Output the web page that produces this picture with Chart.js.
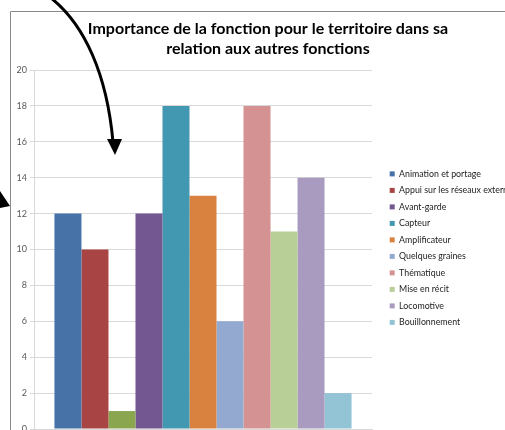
<!DOCTYPE html>
<html>
<head>
<meta charset="utf-8">
<script src="https://cdn.jsdelivr.net/npm/chart.js@4.4.1/dist/chart.umd.min.js"></script>
<style>
  html, body { margin: 0; padding: 0; background: #fff; }
  #wrap { width: 505px; height: 430px; position: relative; }
</style>
</head>
<body>
<div id="wrap"><canvas id="myBarChart" width="505" height="430"></canvas></div>
<script>
// one category, eleven series (the 3rd one has no legend entry in the original)
const seriesNames = ["Animation et portage", "Appui sur les réseaux externes", "", "Avant-garde", "Capteur",
  "Amplificateur", "Quelques graines", "Thématique", "Mise en récit", "Locomotive", "Bouillonnement"];
const seriesValues = [12, 10, 1, 12, 18, 13, 6, 18, 11, 14, 2];
const seriesColors = ["#4672A8", "#A84444", "#8AA64E", "#725790", "#4298B0", "#D9813F",
  "#94A9D0", "#D49292", "#B8CF98", "#A99AC0", "#93C4D5"];
const titleLines = ["Importance de la fonction pour le territoire dans sa", "relation aux autres fonctions"];

const FONT = "Lato, 'Liberation Sans', sans-serif";

// frame + hand-drawn arrows that sit on top of the screenshot
const decor = {
  id: "decor",
  beforeDraw(chart) {
    const ctx = chart.ctx;
    ctx.save();
    ctx.fillStyle = "#fff";
    ctx.fillRect(0, 0, chart.width, chart.height);
    ctx.strokeStyle = "#8a8a8a";
    ctx.lineWidth = 1;
    ctx.beginPath();
    ctx.moveTo(10.5, 440);
    ctx.lineTo(10.5, 11.5);
    ctx.lineTo(510, 11.5);
    ctx.stroke();
    ctx.restore();
  },
  afterDraw(chart) {
    const ctx = chart.ctx;
    ctx.save();
    ctx.strokeStyle = "#000";
    ctx.fillStyle = "#000";
    ctx.lineWidth = 3;
    ctx.beginPath();
    ctx.moveTo(51, -2);
    ctx.bezierCurveTo(85, 25, 107, 75, 113, 142);
    ctx.stroke();
    ctx.beginPath();
    ctx.moveTo(107, 139);
    ctx.lineTo(122, 139);
    ctx.lineTo(115, 155);
    ctx.closePath();
    ctx.fill();
    ctx.beginPath();
    ctx.moveTo(0, 191);
    ctx.lineTo(10, 206);
    ctx.lineTo(0, 208);
    ctx.closePath();
    ctx.fill();
    ctx.restore();
  }
};

const datasets = seriesValues.map((v, i) => ({
  label: seriesNames[i],
  data: [v],
  backgroundColor: seriesColors[i],
  borderWidth: 0,
  categoryPercentage: 0.879,
  barPercentage: 1
}));

new Chart(document.getElementById("myBarChart"), {
  type: "bar",
  data: { labels: [""], datasets: datasets },
  options: {
    responsive: false,
    animation: false,
    // negative right padding so the centred title sits where Excel put it
    layout: { padding: { left: 0, right: -31, top: 0, bottom: 1 } },
    plugins: {
      tooltip: { enabled: false },
      title: {
        display: true,
        text: titleLines,
        color: "#000",
        font: { family: FONT, size: 16, weight: "bold", lineHeight: 1.25 },
        padding: { top: 19, bottom: 11 }
      },
      legend: {
        position: "right",
        align: "start",
        maxWidth: 154,
        title: { display: true, text: " ", font: { size: 9, lineHeight: 1.2 }, padding: { top: 151, bottom: 0 } },
        labels: {
          // trailing spaces only widen the legend box so it starts where Excel's does
          generateLabels: (chart) => Chart.defaults.plugins.legend.labels.generateLabels(chart)
            .map(l => ({ ...l, text: l.text ? l.text + "\u00a0\u00a0\u00a0\u00a0\u00a0" : "" })),
          filter: (item) => item.text !== "",
          boxWidth: 5,
          boxHeight: 5,
          padding: 7.7,
          color: "#222",
          font: { family: FONT, size: 8.8 }
        }
      }
    },
    scales: {
      x: {
        afterFit: (s) => { s.height = 0; },
        ticks: { display: false },
        grid: { display: false, drawTicks: false },
        border: { display: true, color: "#d9d9d9" }
      },
      y: {
        min: 0,
        max: 20,
        afterFit: (s) => { s.width = 34; s.paddingBottom = 0; s.paddingTop = 0; },
        ticks: { stepSize: 2, color: "#595959", font: { family: FONT, size: 9 }, padding: 3 },
        grid: { color: "#d9d9d9", tickLength: 4 },
        border: { color: "#d9d9d9" }
      },
      y2: {
        position: "right",
        display: true,
        afterFit: (s) => { s.width = 10; s.paddingBottom = 0; s.paddingTop = 0; },
        ticks: { display: false },
        grid: { display: false },
        border: { display: false }
      }
    }
  },
  plugins: [decor]
});
</script>
</body>
</html>
